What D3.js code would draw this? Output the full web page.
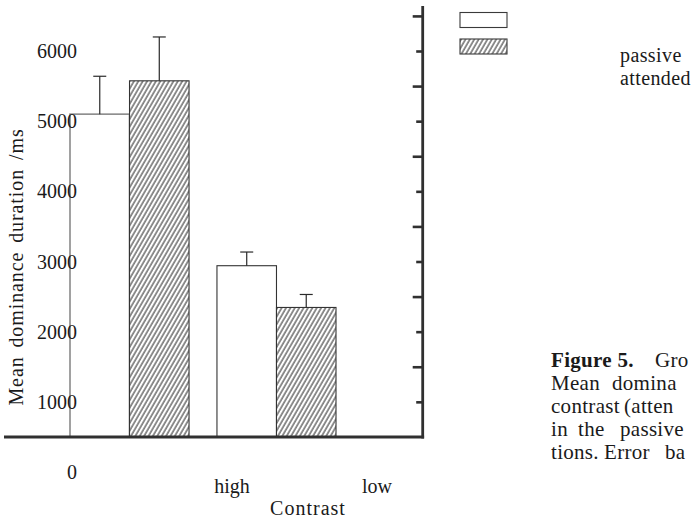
<!DOCTYPE html>
<html>
<head>
<meta charset="utf-8">
<script src="https://cdn.jsdelivr.net/npm/d3@7/dist/d3.min.js"></script>
<style>
  html, body { margin: 0; padding: 0; background: #fff; }
  svg { display: block; }
  text { font-family: "Liberation Serif", "Times New Roman", serif; fill: #1a1a1a; }
</style>
</head>
<body>
<svg id="chart" width="693" height="519"></svg>
<script>
// Contrast conditions and viewing conditions
const contrasts = ["high", "low"];
const conditions = ["passive", "attended"];

// Mean dominance duration (ms) and error bar sizes
const passiveMeans = [5100, 2940];
const passiveErrors = [540, 195];
const attendedMeans = [5575, 2345];
const attendedErrors = [625, 185];

// Axis tick values
const yTickLabels = [0, 1000, 2000, 3000, 4000, 5000, 6000];
const rightMinorTicks = [1000, 2000, 3000, 4000, 5000, 6000];
const rightMajorTicks = [1500, 2500, 3500, 4500, 5500, 6500];
const xLabels = ["high", "low"];

const series = [
  { name: "passive", means: passiveMeans, errors: passiveErrors },
  { name: "attended", means: attendedMeans, errors: attendedErrors }
];

const svg = d3.select("#chart");
const ink = "#303030";

// Scales
const y = d3.scaleLinear().domain([0, 6000]).range([472, 51]);
const baseValue = 500;           // value where the horizontal axis sits
const axisTopValue = 6640;
const x0 = d3.scaleBand().domain(contrasts).range([70, 336]).paddingInner(0.19).paddingOuter(0);
const x1 = d3.scaleBand().domain(conditions).range([0, x0.bandwidth()]).padding(0);

// Hatch pattern for the attended bars
const defs = svg.append("defs");
const pat = defs.append("pattern")
  .attr("id", "hatch")
  .attr("patternUnits", "userSpaceOnUse")
  .attr("width", 3.8).attr("height", 10)
  .attr("patternTransform", "rotate(30)");
pat.append("rect").attr("width", 3.8).attr("height", 10).attr("fill", "#fff");
pat.append("line")
  .attr("x1", 1).attr("y1", 0).attr("x2", 1).attr("y2", 10)
  .attr("stroke", "#222").attr("stroke-width", 1);

const fillFor = name => name === "passive" ? "#fff" : "url(#hatch)";

// Bars
const groups = svg.append("g").selectAll("g")
  .data(contrasts)
  .join("g")
  .attr("transform", d => `translate(${x0(d)},0)`);

groups.each(function(c, ci) {
  const g = d3.select(this);
  series.forEach(s => {
    const v = s.means[ci];
    const bx = x1(s.name);
    const bw = x1.bandwidth();
    const top = y(v);
    const bottom = y(baseValue);
    // the first passive bar has a lighter grey outline
    const light = s.name === "passive" && ci === 0;
    g.append("rect")
      .attr("x", bx).attr("y", top)
      .attr("width", bw).attr("height", bottom - top)
      .attr("fill", fillFor(s.name))
      .attr("stroke", light ? "#8a8a8a" : "#333")
      .attr("stroke-width", light ? 1.6 : 1.1);
    // error bar (upper only)
    const cx = bx + bw / 2;
    const e = y(v + s.errors[ci]);
    g.append("line")
      .attr("x1", cx).attr("x2", cx).attr("y1", top).attr("y2", e)
      .attr("stroke", "#2a2a2a").attr("stroke-width", 1.2);
    g.append("line")
      .attr("x1", cx - 6.5).attr("x2", cx + 6.5).attr("y1", e).attr("y2", e)
      .attr("stroke", "#2a2a2a").attr("stroke-width", 1.2);
  });
});

// Left axis labels (no line, no tick marks)
const leftAxis = svg.append("g")
  .attr("transform", "translate(80,0)")
  .call(d3.axisLeft(y).tickValues(yTickLabels).tickSize(0).tickPadding(3).tickFormat(d3.format("d")));
leftAxis.select(".domain").remove();
leftAxis.selectAll("text")
  .style("font-family", '"Liberation Serif", "Times New Roman", serif')
  .style("font-size", "20px")
  .attr("fill", "#1a1a1a")
  .attr("dy", "0.33em");

// Right axis with alternating long and short ticks
const axisX = 422.7;
const rightMajor = svg.append("g")
  .attr("transform", `translate(${axisX},0)`)
  .call(d3.axisLeft(y).tickValues(rightMajorTicks).tickSize(10).tickFormat(""));
const rightMinor = svg.append("g")
  .attr("transform", `translate(${axisX},0)`)
  .call(d3.axisLeft(y).tickValues(rightMinorTicks).tickSize(6.5).tickFormat(""));
[rightMajor, rightMinor].forEach(a => {
  a.select(".domain").remove();
  a.selectAll(".tick line").attr("stroke", ink).attr("stroke-width", 2.6);
});
svg.append("line")
  .attr("x1", axisX).attr("x2", axisX)
  .attr("y1", y(axisTopValue)).attr("y2", y(baseValue) + 1.5)
  .attr("stroke", ink).attr("stroke-width", 2.8);

// Horizontal axis
svg.append("line")
  .attr("x1", 4).attr("x2", axisX + 1.4)
  .attr("y1", y(baseValue)).attr("y2", y(baseValue))
  .attr("stroke", ink).attr("stroke-width", 3);

// Category labels
const xLabelPos = { "high": 232, "low": 377 };
svg.selectAll("text.xlab")
  .data(xLabels)
  .join("text")
  .attr("class", "xlab")
  .attr("x", d => xLabelPos[d]).attr("y", 493)
  .attr("text-anchor", "middle")
  .style("font-size", "20px")
  .text(d => d);

// Axis titles
svg.append("text")
  .attr("x", 308).attr("y", 515)
  .attr("text-anchor", "middle")
  .style("font-size", "20px")
  .style("letter-spacing", "1px")
  .text("Contrast");

svg.append("text")
  .attr("transform", "translate(23,267) rotate(-90)")
  .attr("text-anchor", "middle")
  .style("font-size", "20px")
  .style("letter-spacing", "0.9px")
  .style("word-spacing", "3px")
  .text("Mean dominance duration /ms");

// Legend
const legend = svg.append("g");
conditions.forEach((c, i) => {
  legend.append("rect")
    .attr("x", 460).attr("y", 12.5 + i * 26.5)
    .attr("width", 47).attr("height", 15)
    .attr("fill", fillFor(c))
    .attr("stroke", "#3a3a3a").attr("stroke-width", 1.1);
  legend.append("text")
    .attr("x", 620).attr("y", 61.5 + i * 23.5)
    .style("font-size", "20px")
    .style("letter-spacing", "0.4px")
    .text(c);
});

// Caption, set word by word
const caption = svg.append("g")
  .style("font-size", "21px")
  .style("letter-spacing", "0.3px");
const capLines = [
  { y: 367, words: [["Figure 5.", 551, true], ["Gro", 655]] },
  { y: 390, words: [["Mean", 551], ["domina", 612]] },
  { y: 413, words: [["contrast", 551], ["(atten", 624]] },
  { y: 436, words: [["in", 551], ["the", 578], ["passive", 620]] },
  { y: 459, words: [["tions.", 551], ["Error", 604], ["ba", 665]] }
];
capLines.forEach(line => {
  line.words.forEach(([w, wx, bold]) => {
    caption.append("text")
      .attr("x", wx).attr("y", line.y)
      .style("font-weight", bold ? "bold" : "normal")
      .text(w);
  });
});
</script>
</body>
</html>
